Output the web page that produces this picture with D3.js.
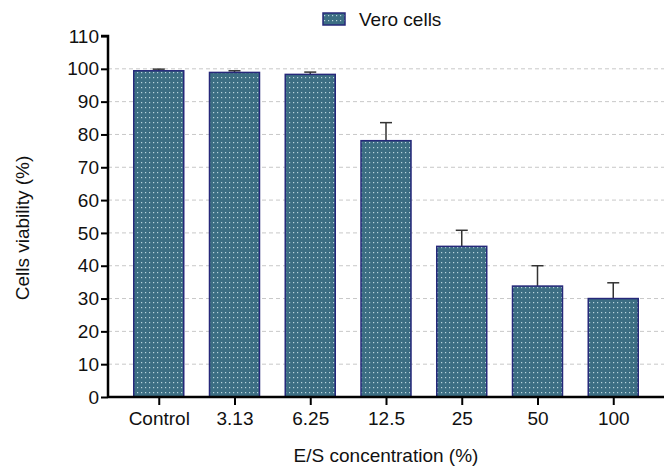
<!DOCTYPE html>
<html>
<head>
<meta charset="utf-8">
<script src="https://cdn.jsdelivr.net/npm/d3@7"></script>
<style>
  body { margin: 0; background: #fff; }
  text { font-family: "Liberation Sans", Arial, sans-serif; fill: #111; }
</style>
</head>
<body>
<svg id="chart" width="667" height="467"></svg>
<script>
var categories = ['Control', '3.13', '6.25', '12.5', '25', '50', '100'];
var viability = [99.4, 98.9, 98.3, 78.1, 45.9, 33.8, 30.0];
var errors = [0.5, 0.5, 0.7, 5.5, 4.9, 6.2, 4.8];
var yTicks = [0, 10, 20, 30, 40, 50, 60, 70, 80, 90, 100, 110];
var seriesName = 'Vero cells';

var svg = d3.select('#chart');
var plotLeft = 108, plotRight = 664, plotTop = 36, plotBottom = 397;
var barWidth = 50;
var fontSize = '19px';

var defs = svg.append('defs');
var pat = defs.append('pattern')
  .attr('id', 'dots')
  .attr('patternUnits', 'userSpaceOnUse')
  .attr('width', 4)
  .attr('height', 5);
pat.append('rect').attr('width', 4).attr('height', 5).attr('fill', '#3c6e83');
pat.append('rect').attr('x', 1).attr('y', 2).attr('width', 1.2).attr('height', 1.2).attr('fill', '#b8d4dc');

var x = d3.scalePoint()
  .domain(categories)
  .range([plotLeft, plotRight])
  .padding(0.67);

var y = d3.scaleLinear()
  .domain([0, 110])
  .range([plotBottom, plotTop]);

// grid
svg.append('g')
  .selectAll('line')
  .data(yTicks.filter(function(d) { return d > 0 && d < 110; }))
  .enter()
  .append('line')
  .attr('x1', plotLeft)
  .attr('x2', plotRight)
  .attr('y1', function(d) { return y(d); })
  .attr('y2', function(d) { return y(d); })
  .attr('stroke', '#c8c8c8')
  .attr('stroke-width', 1)
  .attr('stroke-dasharray', '4,3');

var data = categories.map(function(c, i) {
  return { cat: c, value: viability[i], err: errors[i] };
});

// error bars
var eb = svg.append('g').attr('stroke', '#333').attr('stroke-width', 1.5);
eb.selectAll('.stem')
  .data(data)
  .enter()
  .append('line')
  .attr('x1', function(d) { return x(d.cat); })
  .attr('x2', function(d) { return x(d.cat); })
  .attr('y1', function(d) { return y(d.value); })
  .attr('y2', function(d) { return y(d.value + d.err); });
eb.selectAll('.cap')
  .data(data)
  .enter()
  .append('line')
  .attr('x1', function(d) { return x(d.cat) - 6; })
  .attr('x2', function(d) { return x(d.cat) + 6; })
  .attr('y1', function(d) { return y(d.value + d.err); })
  .attr('y2', function(d) { return y(d.value + d.err); });

// bars
svg.append('g')
  .selectAll('rect')
  .data(data)
  .enter()
  .append('rect')
  .attr('x', function(d) { return x(d.cat) - barWidth / 2; })
  .attr('width', barWidth)
  .attr('y', function(d) { return y(d.value); })
  .attr('height', function(d) { return y(0) - y(d.value); })
  .attr('fill', 'url(#dots)')
  .attr('stroke', '#26287a')
  .attr('stroke-width', 1.5);

// y axis
var yAxis = svg.append('g')
  .attr('transform', 'translate(' + plotLeft + ',0)')
  .call(d3.axisLeft(y).tickValues(yTicks).tickSize(7).tickPadding(2));
yAxis.select('.domain').attr('stroke', '#000').attr('stroke-width', 2.5).attr('d', 'M-7,' + plotTop + 'H0V' + plotBottom);
yAxis.selectAll('.tick line').attr('stroke', '#000').attr('stroke-width', 2);
yAxis.selectAll('.tick text')
  .style('font-family', '"Liberation Sans", Arial, sans-serif')
  .style('font-size', fontSize)
  .attr('fill', '#111');

// x axis
var xAxis = svg.append('g')
  .attr('transform', 'translate(0,' + plotBottom + ')')
  .call(d3.axisBottom(x).tickSize(8).tickPadding(7));
xAxis.select('.domain').attr('stroke', '#000').attr('stroke-width', 2.5).attr('d', 'M' + plotLeft + ',0H' + plotRight);
xAxis.selectAll('.tick line').attr('stroke', '#000').attr('stroke-width', 2);
xAxis.selectAll('.tick text')
  .style('font-family', '"Liberation Sans", Arial, sans-serif')
  .style('font-size', fontSize)
  .attr('fill', '#111');

// axis titles
svg.append('text')
  .attr('x', 386)
  .attr('y', 462)
  .attr('text-anchor', 'middle')
  .style('font-size', fontSize)
  .text('E/S concentration (%)');

svg.append('text')
  .attr('transform', 'translate(29,228) rotate(-90)')
  .attr('text-anchor', 'middle')
  .style('font-size', fontSize)
  .text('Cells viability (%)');

// legend
var legend = svg.append('g').attr('transform', 'translate(323,13)');
legend.append('rect')
  .attr('width', 22)
  .attr('height', 12)
  .attr('fill', 'url(#dots)')
  .attr('stroke', '#26287a')
  .attr('stroke-width', 1.5);
legend.append('text')
  .attr('x', 36)
  .attr('y', 13)
  .style('font-size', fontSize)
  .text(seriesName);
</script>
</body>
</html>
